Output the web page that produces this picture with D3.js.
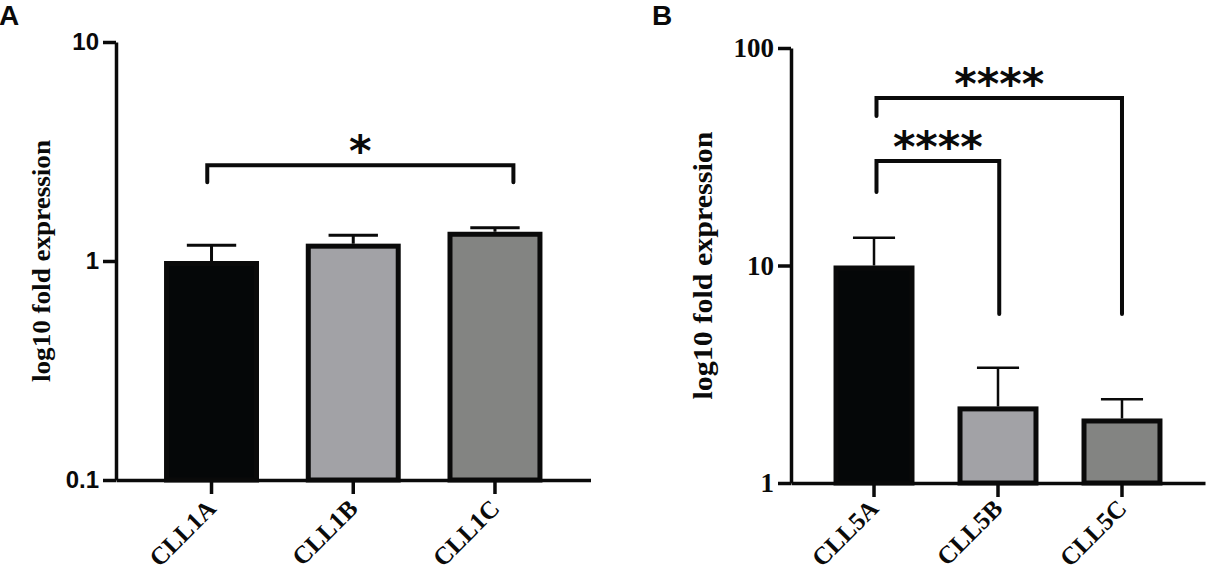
<!DOCTYPE html>
<html>
<head>
<meta charset="utf-8">
<script src="https://cdn.jsdelivr.net/npm/d3@7"></script>
<style>
  body { margin: 0; background: #fff; }
  svg { display: block; }
</style>
</head>
<body>
<svg id="chart" width="1208" height="576"></svg>
<script>
// Panel A values
const categoriesA = ["CLL1A", "CLL1B", "CLL1C"];
const meansA = [1.0, 1.2, 1.36];
const errorTopsA = [1.18, 1.31, 1.42];
const tickValuesA = [0.1, 1, 10];
const tickLabelsA = ["0.1", "1", "10"];
// brackets: from/to in category index units, heights in data units
const bracketsA = [
  { from: -0.03, to: 2.13, top: 2.74, legFrom: 2.29, legTo: 2.29, stars: "*" }
];

// Panel B values
const categoriesB = ["CLL5A", "CLL5B", "CLL5C"];
const meansB = [10.0, 2.25, 1.98];
const errorTopsB = [13.4, 3.39, 2.43];
const tickValuesB = [1, 10, 100];
const tickLabelsB = ["1", "10", "100"];
const bracketsB = [
  { from: 0.02, to: 1.01, top: 30.2, legFrom: 21.8, legTo: 5.98, stars: "****" },
  { from: 0.02, to: 2.0, top: 58.9, legFrom: 48.7, legTo: 5.98, stars: "****" }
];

const barFills = ["#050708", "#a2a2a6", "#838482"];
const ink = "#0a0a0a";
const serif = "'Liberation Serif', 'Times New Roman', serif";
const sans = "'Liberation Sans', Arial, sans-serif";
const barStroke = 5;

const svg = d3.select("#chart");

function drawPanel(p) {
  const g = svg.append("g");

  const x = d3.scaleBand()
    .domain(p.categories)
    .range([p.left, p.right])
    .paddingInner(p.padInner)
    .paddingOuter(p.padOuter);
  const y = d3.scaleLog().domain(p.domain).range([p.bottom, p.top]);

  // category index -> pixel centre
  const pos = d3.scaleLinear()
    .domain([0, 1])
    .range([x(p.categories[0]) + x.bandwidth() / 2, x(p.categories[1]) + x.bandwidth() / 2]);

  // error bars
  g.selectAll("path.err")
    .data(p.categories)
    .join("path")
    .attr("class", "err")
    .attr("d", (d, i) => {
      const cx = x(d) + x.bandwidth() / 2;
      const half = x.bandwidth() * 0.26;
      return `M${cx},${y(p.means[i])}V${y(p.errorTops[i])}M${cx - half},${y(p.errorTops[i])}H${cx + half}`;
    })
    .attr("fill", "none")
    .attr("stroke", ink)
    .attr("stroke-width", p.errWidth);

  // bars, outline kept inside the bar
  const h = barStroke / 2;
  g.selectAll("rect.bar")
    .data(p.categories)
    .join("rect")
    .attr("class", "bar")
    .attr("x", d => x(d) + h)
    .attr("width", x.bandwidth() - barStroke)
    .attr("y", (d, i) => y(p.means[i]) + h)
    .attr("height", (d, i) => y(p.domain[0]) - y(p.means[i]) - h)
    .attr("fill", (d, i) => barFills[i])
    .attr("stroke", ink)
    .attr("stroke-width", barStroke);

  // y axis
  const yAxis = g.append("g")
    .attr("transform", `translate(${p.left},0)`)
    .call(d3.axisLeft(y)
      .tickValues(p.tickValues)
      .tickFormat((d, i) => p.tickLabels[i])
      .tickSize(13)
      .tickSizeOuter(0)
      .tickPadding(4));
  yAxis.select(".domain").attr("stroke", ink).attr("stroke-width", 3.5);
  yAxis.selectAll(".tick line").attr("stroke", ink).attr("stroke-width", 3.5);
  yAxis.selectAll(".tick text")
    .attr("fill", ink)
    .style("font-family", p.tickFont)
    .style("font-weight", "bold")
    .style("font-size", p.tickSize + "px");

  // x axis
  const xAxis = g.append("g")
    .attr("transform", `translate(0,${p.bottom})`)
    .call(d3.axisBottom(x).tickSize(14).tickSizeOuter(0).tickFormat(""));
  xAxis.select(".domain").attr("stroke", ink).attr("stroke-width", 3.5);
  xAxis.selectAll(".tick line").attr("stroke", ink).attr("stroke-width", 3.5);

  g.selectAll("text.cat")
    .data(p.categories)
    .join("text")
    .attr("class", "cat")
    .attr("transform", d => `translate(${x(d) + x.bandwidth() / 2 + 6},${p.bottom + p.labelDy}) rotate(-45)`)
    .attr("text-anchor", "end")
    .attr("fill", ink)
    .style("font-family", serif)
    .style("font-weight", "bold")
    .style("font-size", "25px")
    .text(d => d);

  // y title
  g.append("text")
    .attr("transform", `translate(${p.titleX},${(p.top + p.bottom) / 2}) rotate(-90)`)
    .attr("text-anchor", "middle")
    .attr("fill", ink)
    .attr("textLength", p.titleLength)
    .attr("lengthAdjust", "spacingAndGlyphs")
    .style("font-family", serif)
    .style("font-weight", "bold")
    .style("font-size", p.titleSize + "px")
    .text("log10 fold expression");

  // significance brackets
  g.selectAll("path.sig")
    .data(p.brackets)
    .join("path")
    .attr("class", "sig")
    .attr("d", b => `M${pos(b.from)},${y(b.legFrom)}V${y(b.top)}H${pos(b.to)}V${y(b.legTo)}`)
    .attr("fill", "none")
    .attr("stroke", ink)
    .attr("stroke-width", 4)
    .attr("stroke-linecap", "round")
    .attr("stroke-linejoin", "miter");

  g.selectAll("text.stars")
    .data(p.brackets)
    .join("text")
    .attr("class", "stars")
    .attr("x", b => (pos(b.from) + pos(b.to)) / 2)
    .attr("y", b => y(b.top) + 1)
    .attr("text-anchor", "middle")
    .attr("fill", ink)
    .style("font-family", "'DejaVu Sans', sans-serif")
    .style("font-weight", "bold")
    .style("font-size", "43px")
    .text(b => b.stars);

  // panel letter
  svg.append("text")
    .attr("x", p.letterX)
    .attr("y", 25)
    .attr("fill", ink)
    .style("font-family", sans)
    .style("font-weight", "bold")
    .style("font-size", "28px")
    .text(p.letter);
}

drawPanel({
  letter: "A", letterX: -1,
  categories: categoriesA, means: meansA, errorTops: errorTopsA,
  tickValues: tickValuesA, tickLabels: tickLabelsA, brackets: bracketsA,
  domain: [0.1, 10],
  left: 116, right: 590.5, top: 42, bottom: 480,
  padInner: 0.33, padOuter: 0.339,
  errWidth: 3, labelDy: 30,
  tickFont: sans, tickSize: 24,
  titleX: 50, titleSize: 25, titleLength: 242
});

drawPanel({
  letter: "B", letterX: 652,
  categories: categoriesB, means: meansB, errorTops: errorTopsB,
  tickValues: tickValuesB, tickLabels: tickLabelsB, brackets: bracketsB,
  domain: [1, 100],
  left: 791, right: 1205, top: 48, bottom: 483,
  padInner: 0.347, padOuter: 0.343,
  errWidth: 2.5, labelDy: 27,
  tickFont: serif, tickSize: 27,
  titleX: 712, titleSize: 28, titleLength: 268
});
</script>
</body>
</html>
